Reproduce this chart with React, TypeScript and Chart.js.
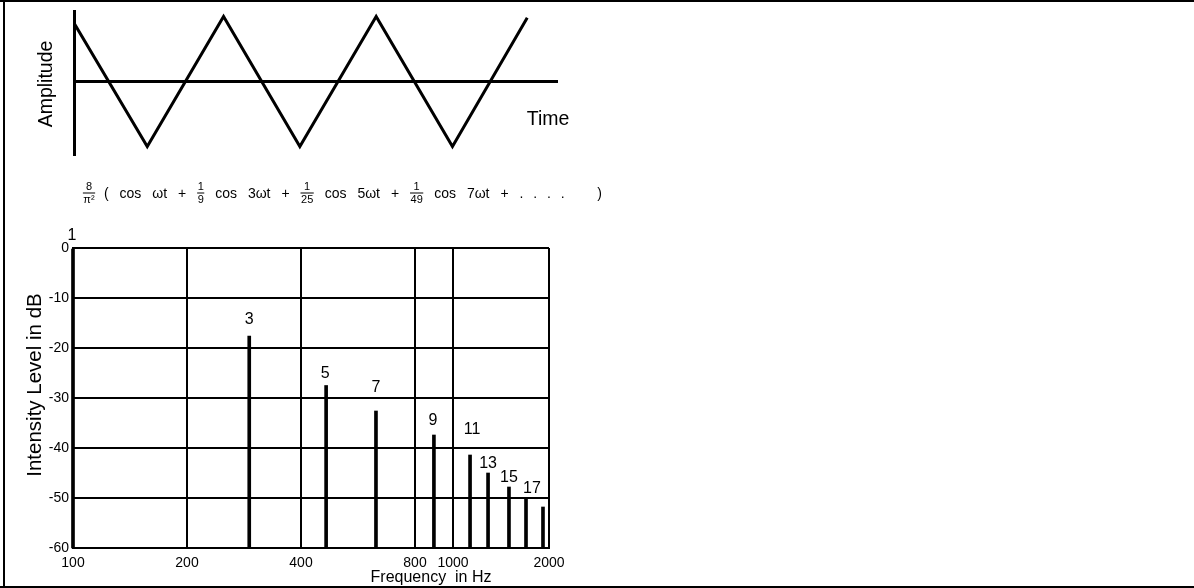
import { useEffect, useRef } from "react";
import { Chart, registerables, LogarithmicScale } from "chart.js";

Chart.register(...registerables);

const SANS = '"Liberation Sans", Arial, Helvetica, sans-serif';

// ---- Triangle wave (upper panel) ----
const waveTime = [0, 0.96, 1.96, 2.96, 3.96, 4.96, 5.94];
const waveAmplitude = [0.9, -1, 1, -1, 1, -1, 0.98];
const timeMin = 0;
const timeMax = 6.33;
const amplitudeMin = -1.13;
const amplitudeMax = 1.085;

// ---- Line spectrum (lower panel) ----
const harmonicLabels = ["1", "3", "5", "7", "9", "11", "13", "15", "17", ""];
const harmonicFrequency = [100, 292, 466, 631, 894, 1131, 1288, 1498, 1694, 1915];
const harmonicLevelDb = [0, -17.6, -27.5, -32.6, -37.4, -41.4, -45, -47.8, -50, -51.8];
const frequencyTicks = [100, 200, 400, 800, 1000, 2000];
const levelMin = -60;
const levelMax = 0;
const levelStep = 10;

// Share of the axis length given to each interval between frequency grid lines
const frequencyIntervalWidths = [114, 114, 114, 38, 96];
// Gap (px) between a harmonic's line top and its label, and a sideways nudge
const labelLift = [8, 12, 8, 19, 10, 21, 5, 5, 5, 0];
const labelNudge = [-1, 0, -1, 0, -1, 2, 0, 0, 6, 0];

// Series formula written above the spectrum
type Piece = string | [string, string];
const formulaLead: [string, string] = ["8", "π²"];
const formulaBody: Piece[] = [
  "(", "cos", "ωt", "+", ["1", "9"], "cos", "3ωt", "+", ["1", "25"], "cos", "5ωt",
  "+", ["1", "49"], "cos", "7ωt", "+", ".", ".", ".", ".", ")",
];

const intervalTotal = frequencyIntervalWidths.reduce((a, b) => a + b, 0);

// Log-style frequency axis whose grid intervals get their own widths
class SegmentedLogScale extends LogarithmicScale {
  static id = "segmentedLog";

  buildTicks() {
    this.start = this.min;
    this.end = this.max;
    return frequencyTicks.map((value) => ({ value }));
  }

  getPixelForValue(value: number) {
    const stops = frequencyTicks;
    const v = Math.min(Math.max(value, stops[0]), stops[stops.length - 1]);
    let acc = 0;
    for (let i = 0; i < stops.length - 1; i++) {
      const w = frequencyIntervalWidths[i];
      if (v <= stops[i + 1] || i === stops.length - 2) {
        const f = Math.log(v / stops[i]) / Math.log(stops[i + 1] / stops[i]);
        return this.getPixelForDecimal((acc + f * w) / intervalTotal);
      }
      acc += w;
    }
    return this.getPixelForDecimal(1);
  }

  getValueForPixel(pixel: number) {
    const d = this.getDecimalForPixel(pixel) * intervalTotal;
    const stops = frequencyTicks;
    let acc = 0;
    for (let i = 0; i < stops.length - 1; i++) {
      const w = frequencyIntervalWidths[i];
      if (d <= acc + w || i === stops.length - 2) {
        const f = (d - acc) / w;
        return stops[i] * Math.pow(stops[i + 1] / stops[i], f);
      }
      acc += w;
    }
    return stops[stops.length - 1];
  }
}
Chart.register(SegmentedLogScale);

const waveText = {
  id: "waveText",
  afterDraw(chart: any) {
    const { ctx } = chart;
    ctx.save();
    ctx.fillStyle = "#000";
    ctx.font = `19.5px ${SANS}`;
    ctx.textAlign = "center";
    ctx.textBaseline = "middle";
    ctx.save();
    ctx.translate(47, 84);
    ctx.rotate(-Math.PI / 2);
    ctx.fillText("Amplitude", 0, 0);
    ctx.restore();
    ctx.fillText("Time", 548, 120);
    ctx.restore();
  },
};

function drawFraction(ctx: CanvasRenderingContext2D, num: string, den: string, cx: number) {
  ctx.save();
  ctx.font = `11px ${SANS}`;
  ctx.textAlign = "center";
  ctx.textBaseline = "middle";
  const w = Math.max(ctx.measureText(num).width, ctx.measureText(den).width) + 1;
  ctx.fillText(num, cx, 16.5);
  ctx.fillRect(cx - w / 2, 22.5, w, 1);
  ctx.fillText(den, cx, 29.5);
  ctx.restore();
}

const spectrumText = {
  id: "spectrumText",
  afterDatasetsDraw(chart: any) {
    const { ctx, scales } = chart;
    const x = scales.x;
    const y = scales.y;
    ctx.save();
    ctx.fillStyle = "#000";

    // harmonic numbers above each line
    ctx.font = `16px ${SANS}`;
    ctx.textAlign = "center";
    ctx.textBaseline = "alphabetic";
    harmonicLabels.forEach((t, i) => {
      if (!t) return;
      const px = x.getPixelForValue(harmonicFrequency[i]) + labelNudge[i];
      const py = y.getPixelForValue(harmonicLevelDb[i]) - labelLift[i];
      ctx.fillText(t, px, py);
    });

    // axis titles
    ctx.textBaseline = "middle";
    ctx.font = `20.5px ${SANS}`;
    ctx.save();
    ctx.translate(35, 215);
    ctx.rotate(-Math.PI / 2);
    ctx.fillText("Intensity Level in dB", 0, 0);
    ctx.restore();
    ctx.font = `16px ${SANS}`;
    ctx.fillText("Frequency  in Hz", 431, 408);

    // Fourier series of the triangle wave
    drawFraction(ctx, formulaLead[0], formulaLead[1], 89);
    ctx.font = `14px ${SANS}`;
    ctx.textAlign = "left";
    const widths = formulaBody.map((p) => {
      if (typeof p === "string") return ctx.measureText(p).width;
      ctx.save();
      ctx.font = `11px ${SANS}`;
      const w = Math.max(ctx.measureText(p[0]).width, ctx.measureText(p[1]).width) + 1;
      ctx.restore();
      return w;
    });
    const gapWeights = formulaBody.map((p, i) => {
      if (i === 0) return 0;
      if (p === ")") return 3;
      if (p === "." && formulaBody[i - 1] === ".") return 0.9;
      return 1;
    });
    const startX = 104;
    const endX = 602;
    const natural = widths.reduce((a, b) => a + b, 0);
    const weightSum = gapWeights.reduce((a, b) => a + b, 0);
    const unit = (endX - startX - natural) / weightSum;
    let cursor = startX;
    formulaBody.forEach((p, i) => {
      cursor += gapWeights[i] * unit;
      if (typeof p === "string") {
        ctx.fillText(p, cursor, 24);
      } else {
        drawFraction(ctx, p[0], p[1], cursor + widths[i] / 2);
      }
      cursor += widths[i];
    });
    ctx.restore();
  },
};

export default function App() {
  const topRef = useRef<HTMLCanvasElement>(null);
  const bottomRef = useRef<HTMLCanvasElement>(null);

  useEffect(() => {
    const wave = new Chart(topRef.current as HTMLCanvasElement, {
      type: "line",
      data: {
        datasets: [
          {
            data: waveTime.map((t, i) => ({ x: t, y: waveAmplitude[i] })),
            borderColor: "#000",
            borderWidth: 3,
            pointRadius: 0,
            tension: 0,
            fill: false,
            borderJoinStyle: "miter",
          },
        ],
      },
      options: {
        animation: false,
        responsive: false,
        devicePixelRatio: 1,
        layout: { padding: { left: 74, top: 11, right: 43, bottom: 15 } },
        plugins: { legend: { display: false }, tooltip: { enabled: false } },
        scales: {
          x: {
            type: "linear",
            min: timeMin,
            max: timeMax,
            position: { y: 0 },
            ticks: { display: false },
            grid: { display: true, color: "rgba(0,0,0,0)", drawTicks: false },
            border: { display: true, color: "#000", width: 3 },
          },
          y: {
            type: "linear",
            min: amplitudeMin,
            max: amplitudeMax,
            ticks: { display: false },
            grid: { display: true, color: "rgba(0,0,0,0)", drawTicks: false },
            border: { display: true, color: "#000", width: 3 },
          },
        },
      } as any,
      plugins: [waveText],
    });

    const spectrum = new Chart(bottomRef.current as HTMLCanvasElement, {
      type: "bar",
      data: {
        datasets: [
          {
            data: harmonicFrequency.map((f, i) => ({ x: f, y: [levelMin, harmonicLevelDb[i]] })),
            backgroundColor: "#000",
            borderWidth: 0,
            barThickness: 3,
            clip: false,
          },
        ],
      } as any,
      options: {
        animation: false,
        responsive: false,
        devicePixelRatio: 1,
        layout: { padding: { left: 26, top: 78, right: 71, bottom: 0 } },
        plugins: { legend: { display: false }, tooltip: { enabled: false } },
        scales: {
          x: {
            type: "segmentedLog",
            min: frequencyTicks[0],
            max: frequencyTicks[frequencyTicks.length - 1],
            offset: false,
            afterFit: (s: any) => {
              s.height = 40;
            },
            grid: { color: "#000", lineWidth: 2, drawTicks: false, offset: false },
            border: { display: true, color: "#000", width: 2 },
            ticks: {
              autoSkip: false,
              maxRotation: 0,
              padding: 7,
              color: "#000",
              font: { family: SANS, size: 14 },
              callback: (v: any) => String(v),
            },
          },
          y: {
            type: "linear",
            min: levelMin,
            max: levelMax,
            afterFit: (s: any) => {
              s.width = 47;
            },
            grid: { color: "#000", lineWidth: 2, drawTicks: false },
            border: { display: true, color: "#000", width: 2 },
            ticks: {
              stepSize: levelStep,
              padding: 4,
              color: "#000",
              font: { family: SANS, size: 14 },
              callback: (v: any) => String(v),
            },
          },
        },
      } as any,
      plugins: [spectrumText],
    });

    return () => {
      wave.destroy();
      spectrum.destroy();
    };
  }, []);

  return (
    <div
      style={{
        position: "fixed",
        left: 0,
        top: 0,
        width: 1194,
        height: 588,
        background: "#fff",
        overflow: "hidden",
      }}
    >
      <div style={{ position: "absolute", left: 0, top: 0, width: 1194, height: 2, background: "#000" }} />
      <div style={{ position: "absolute", left: 3, top: 0, width: 2, height: 588, background: "#000" }} />
      <div style={{ position: "absolute", left: 0, top: 586, width: 1194, height: 2, background: "#000" }} />
      <canvas
        ref={topRef}
        width={600}
        height={170}
        style={{ position: "absolute", left: 0, top: 0, width: 600, height: 170 }}
      />
      <canvas
        ref={bottomRef}
        width={620}
        height={418}
        style={{ position: "absolute", left: 0, top: 170, width: 620, height: 418 }}
      />
    </div>
  );
}
